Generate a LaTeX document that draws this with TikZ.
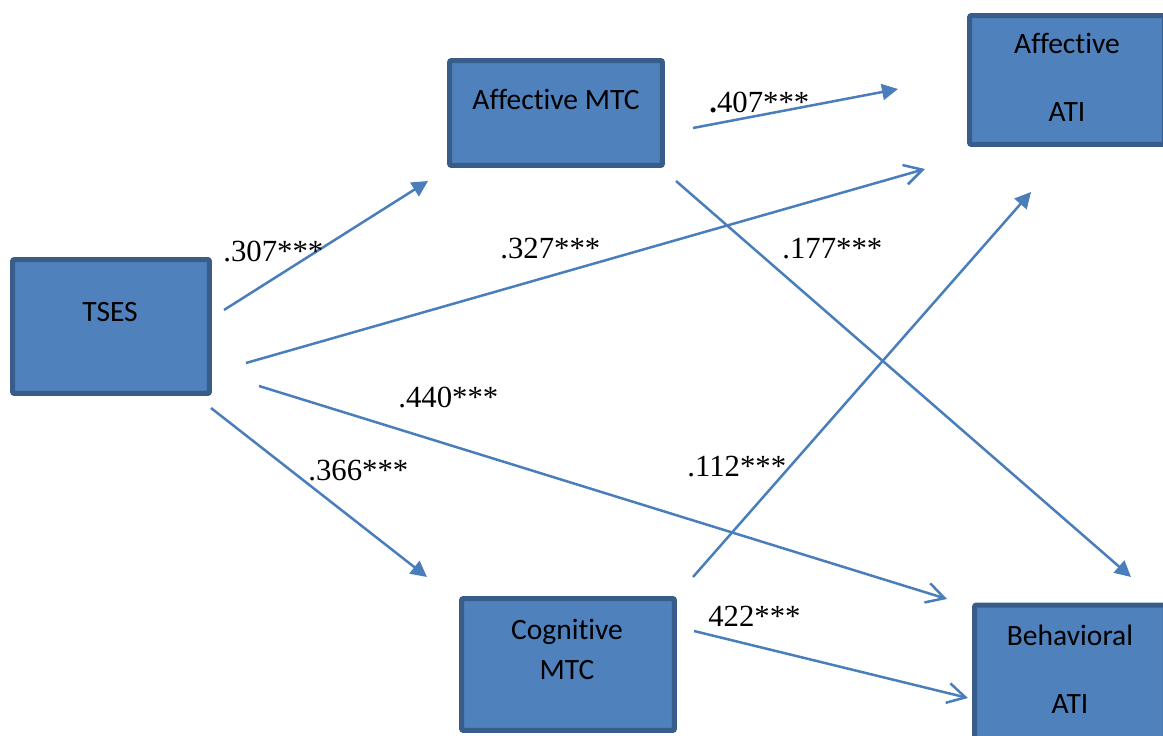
\documentclass[tikz,border=0pt]{standalone}
\usepackage{fontspec}
\setmainfont{Liberation Serif}
\newfontfamily\boxfont[Ligatures=NoCommon]{Carlito}
\usetikzlibrary{arrows.meta,positioning}

\definecolor{boxfill}{HTML}{4F81BD}
\definecolor{boxline}{HTML}{385D8A}
\definecolor{pathline}{HTML}{4A7EBB}

\begin{document}
\begin{tikzpicture}[x=0.02cm,y=-0.02cm,
  box/.style={draw=boxline,fill=boxfill,line width=0.1cm,rounded corners=0.04cm,inner sep=0pt,outer sep=0pt},
  boxtext/.style={font=\boxfont\fontsize{16.8}{20}\selectfont,inner sep=0pt,anchor=base},
  coef/.style={font=\fontsize{17.5}{21}\selectfont,inner sep=0pt,anchor=base west},
  effect/.style={draw=pathline,line width=0.05cm,-{Triangle[length=0.32cm,width=0.32cm]}},
  openeffect/.style={effect,-{Straight Barb[length=0.36cm,width=0.4cm]}}]
\useasboundingbox (0,0) rectangle (1163,736);
\clip (0,0) rectangle (1163,736);

% boxes
\node[box,minimum width=3.94cm,minimum height=2.68cm] (tses) at (111,326.5) {};
\node[box,minimum width=4.26cm,minimum height=2.1cm] (amtc) at (556,113) {};
\node[box,minimum width=4.26cm,minimum height=2.64cm] (cmtc) at (568,664.5) {};
\node[box,minimum width=3.9cm,minimum height=2.58cm] (aati) at (1067,80) {};
\node[box,minimum width=3.82cm,minimum height=2.8cm] (bati) at (1070,675) {};

\node[boxtext] (tses-l) at (110,322) {TSES};
\node[boxtext] (amtc-l) at (556,110) {Affective MTC};
\node[boxtext] (cmtc-l1) at (567,639) {Cognitive};
\node[boxtext] (cmtc-l2) at (567,679) {MTC};
\node[boxtext] (aati-l1) at (1067,54) {Affective};
\node[boxtext] (aati-l2) at (1067,122) {ATI};
\node[boxtext] (bati-l1) at (1070,645) {Behavioral};
\node[boxtext] (bati-l2) at (1070,713) {ATI};

% path ends
\coordinate (tses-amtc-s) at (224,310);
\coordinate (tses-amtc-e) at (428,181);
\coordinate (tses-aati-s) at (246,363);
\coordinate (tses-aati-e) at (925,169);
\coordinate (tses-bati-s) at (259,386);
\coordinate (tses-bati-e) at (947,599);
\coordinate (tses-cmtc-s) at (211,408);
\coordinate (tses-cmtc-e) at (427,577);
\coordinate (amtc-aati-s) at (693,128);
\coordinate (amtc-aati-e) at (898,89);
\coordinate (amtc-bati-s) at (676,181);
\coordinate (amtc-bati-e) at (1131,577);
\coordinate (cmtc-aati-s) at (693,577);
\coordinate (cmtc-aati-e) at (1031,192);
\coordinate (cmtc-bati-s) at (694,631);
\coordinate (cmtc-bati-e) at (968,698);

\draw[effect] (tses-amtc-s) -- (tses-amtc-e);
\draw[openeffect] (tses-aati-s) -- (tses-aati-e);
\draw[openeffect] (tses-bati-s) -- (tses-bati-e);
\draw[effect] (tses-cmtc-s) -- (tses-cmtc-e);
\draw[effect] (amtc-aati-s) -- (amtc-aati-e);
\draw[effect] (amtc-bati-s) -- (amtc-bati-e);
\draw[effect] (cmtc-aati-s) -- (cmtc-aati-e);
\draw[openeffect] (cmtc-bati-s) -- (cmtc-bati-e);

% coefficients
\node[coef] (c307) at (223,262) {.307***};
\node[coef] (c327) at (500,259) {.327***};
\node[coef] (c440) at (398,408) {.440***};
\node[coef] (c366) at (308,480) {.366***};
\node[coef] (c407) at (709,113) {\textbf{.}407***};
\node[coef] (c177) at (782,259) {.177***};
\node[coef] (c112) at (687,477) {.112***};
\node[coef] (c422) at (708,626) {422***};
\end{tikzpicture}
\end{document}
